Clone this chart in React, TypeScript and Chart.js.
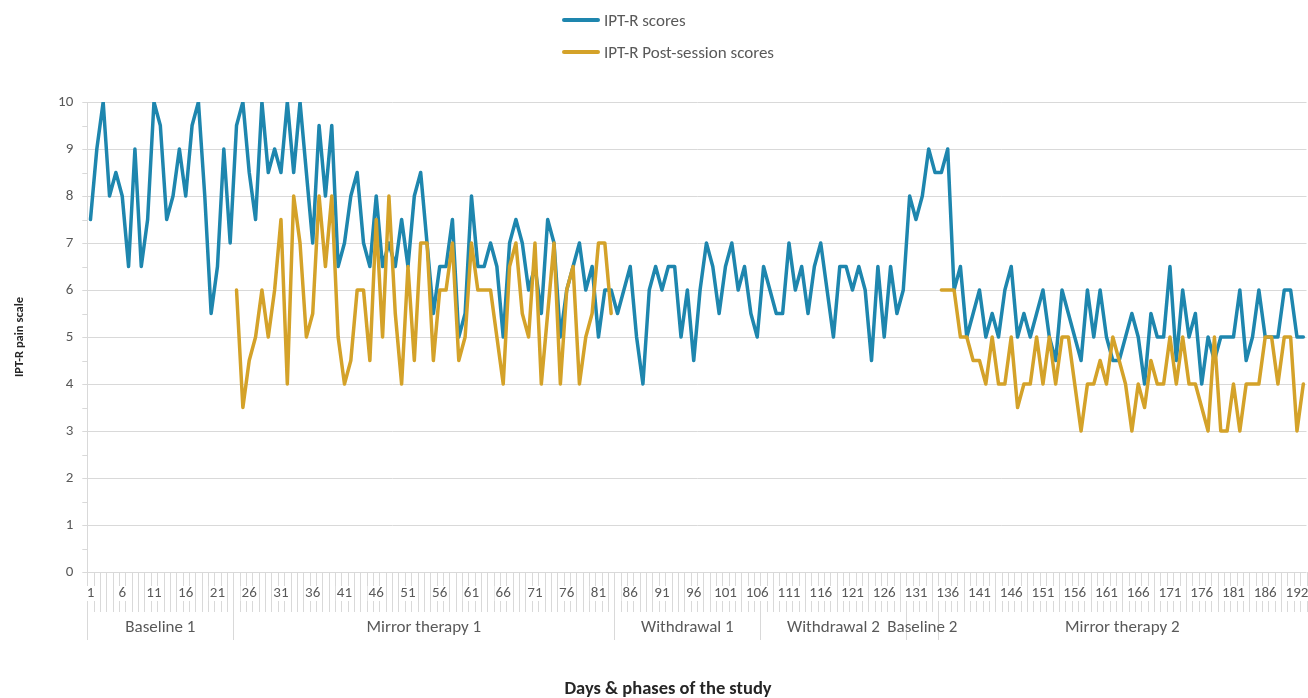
import React, { useEffect, useRef } from 'react';
import { Chart, registerables } from 'chart.js';

Chart.register(...registerables);

const FONT = "Carlito, Lato, 'Liberation Sans', sans-serif";
const BLUE = '#1E86AE';
const GOLD = '#D4A229';
const TICK_FONT_SIZE = 15;

// Category labels (days 1..192)
const days: string[] = Array.from({ length: 192 }, (_, i) => String(i + 1));

// Tick labels displayed every 5th category
const tickLabels: string[] = [
  '1', '6', '11', '16', '21', '26', '31', '36', '41', '46', '51', '56', '61', '66', '71', '76', '81', '86', '91',
  '96', '101', '106', '111', '116', '121', '126', '131', '136', '141', '146', '151', '156', '161', '166', '171',
  '176', '181', '186', '192',
];

// Phases of the study and their first day
const phases: string[] = ['Baseline 1', 'Mirror therapy 1', 'Withdrawal 1', 'Withdrawal 2', 'Baseline 2', 'Mirror therapy 2'];
const phaseStarts: number[] = [1, 24, 84, 107, 130, 135];

// IPT-R scores, days 1..192
const iptScores: number[] = [
  7.5, 9, 10, 8, 8.5, 8, 6.5, 9, 6.5, 7.5,
  10, 9.5, 7.5, 8, 9, 8, 9.5, 10, 8, 5.5,
  6.5, 9, 7, 9.5, 10, 8.5, 7.5, 10, 8.5, 9,
  8.5, 10, 8.5, 10, 8.5, 7, 9.5, 8, 9.5, 6.5,
  7, 8, 8.5, 7, 6.5, 8, 6.5, 7, 6.5, 7.5,
  6.5, 8, 8.5, 7, 5.5, 6.5, 6.5, 7.5, 5, 5.5,
  8, 6.5, 6.5, 7, 6.5, 5, 7, 7.5, 7, 6,
  6.5, 5.5, 7.5, 7, 5, 6, 6.5, 7, 6, 6.5,
  5, 6, 6, 5.5, 6, 6.5, 5, 4, 6, 6.5,
  6, 6.5, 6.5, 5, 6, 4.5, 6, 7, 6.5, 5.5,
  6.5, 7, 6, 6.5, 5.5, 5, 6.5, 6, 5.5, 5.5,
  7, 6, 6.5, 5.5, 6.5, 7, 6, 5, 6.5, 6.5,
  6, 6.5, 6, 4.5, 6.5, 5, 6.5, 5.5, 6, 8,
  7.5, 8, 9, 8.5, 8.5, 9, 6, 6.5, 5, 5.5,
  6, 5, 5.5, 5, 6, 6.5, 5, 5.5, 5, 5.5,
  6, 5, 4.5, 6, 5.5, 5, 4.5, 6, 5, 6,
  5, 4.5, 4.5, 5, 5.5, 5, 4, 5.5, 5, 5,
  6.5, 4.5, 6, 5, 5.5, 4, 5, 4.5, 5, 5,
  5, 6, 4.5, 5, 6, 5, 5, 5, 6, 6,
  5, 5,
];

// IPT-R post-session scores, mirror therapy 1 (days 24..83)
const postSession1: number[] = [
  6, 3.5, 4.5, 5, 6, 5, 6,
  7.5, 4, 8, 7, 5, 5.5, 8, 6.5, 8, 5,
  4, 4.5, 6, 6, 4.5, 7.5, 5, 8, 5.5, 4,
  6.5, 4.5, 7, 7, 4.5, 6, 6, 7, 4.5, 5,
  7, 6, 6, 6, 5, 4, 6.5, 7, 5.5, 5,
  7, 4, 5.5, 7, 4, 6, 6.5, 4, 5, 5.5,
  7, 7, 5.5,
];
const post1Start = 24;

// IPT-R post-session scores, mirror therapy 2 (days 135..192)
const postSession2: number[] = [
  6, 6, 6, 5, 5, 4.5,
  4.5, 4, 5, 4, 4, 5, 3.5, 4, 4, 5,
  4, 5, 4, 5, 5, 4, 3, 4, 4, 4.5,
  4, 5, 4.5, 4, 3, 4, 3.5, 4.5, 4, 4,
  5, 4, 5, 4, 4, 3.5, 3, 5, 3, 3,
  4, 3, 4, 4, 4, 5, 5, 4, 5, 5,
  3, 4,
];
const post2Start = 135;

function buildPost(): (number | null)[] {
  const out: (number | null)[] = days.map(() => null);
  postSession1.forEach((v, i) => { out[post1Start - 1 + i] = v; });
  postSession2.forEach((v, i) => { out[post2Start - 1 + i] = v; });
  return out;
}

const axisDecor = {
  id: 'axisDecor',
  beforeDraw(chart: any) {
    const { ctx, chartArea } = chart;
    const { left, right, bottom } = chartArea;
    const n = days.length;
    const w = (right - left) / n;
    ctx.save();
    ctx.strokeStyle = '#d9d9d9';
    ctx.lineWidth = 1;
    ctx.beginPath();
    for (let k = 0; k <= n; k++) {
      const x = Math.round(left + k * w) + 0.5;
      ctx.moveTo(x, bottom);
      ctx.lineTo(x, bottom + 40);
    }
    phaseStarts.forEach((s) => {
      const x = Math.round(left + (s - 1) * w) + 0.5;
      ctx.moveTo(x, bottom);
      ctx.lineTo(x, bottom + 68);
    });
    const ys = chart.scales.y;
    for (let v = 0; v <= 10; v += 0.5) {
      const y = Math.round(ys.getPixelForValue(v)) + 0.5;
      ctx.moveTo(left - 5, y);
      ctx.lineTo(left, y);
    }
    ctx.stroke();
    // clear the area behind the day labels so the divider lines do not cross the digits
    ctx.fillStyle = '#ffffff';
    ctx.font = `${TICK_FONT_SIZE}px ${FONT}`;
    tickLabels.forEach((t, j) => {
      const cx = left + (j * 5 + 0.5) * w;
      const tw = ctx.measureText(t).width;
      ctx.fillRect(cx - tw / 2 - 1, bottom + 14, tw + 2, 15);
    });
    ctx.restore();
  },
  afterDraw(chart: any) {
    const { ctx, chartArea } = chart;
    const { left, right, bottom } = chartArea;
    const n = days.length;
    const w = (right - left) / n;
    ctx.save();
    ctx.fillStyle = '#595959';
    ctx.font = `17px ${FONT}`;
    ctx.textAlign = 'center';
    ctx.textBaseline = 'middle';
    phases.forEach((p, i) => {
      const s = phaseStarts[i] - 1;
      const e = i + 1 < phases.length ? phaseStarts[i + 1] - 1 : n;
      ctx.fillText(p, left + ((s + e) / 2) * w, bottom + 56);
    });
    ctx.fillStyle = '#262626';
    ctx.font = `bold 18.5px ${FONT}`;
    ctx.fillText('Days & phases of the study', 668, 689);
    ctx.restore();
  },
};

export default function App() {
  const ref = useRef<HTMLCanvasElement>(null);

  useEffect(() => {
    const canvas = ref.current;
    if (!canvas) return;
    const chart = new Chart(canvas, {
      type: 'line',
      data: {
        labels: days,
        datasets: [
          {
            label: 'IPT-R scores',
            data: iptScores,
            borderColor: BLUE,
            backgroundColor: BLUE,
            borderWidth: 3.5,
            pointRadius: 0,
            tension: 0,
            borderJoinStyle: 'round',
            borderCapStyle: 'round',
            order: 1,
          },
          {
            label: 'IPT-R Post-session scores',
            data: buildPost(),
            borderColor: GOLD,
            backgroundColor: GOLD,
            borderWidth: 3.5,
            pointRadius: 0,
            tension: 0,
            spanGaps: false,
            borderJoinStyle: 'round',
            borderCapStyle: 'round',
            order: 0,
          },
        ],
      },
      options: {
        responsive: false,
        animation: false,
        layout: { padding: { top: 102, right: 1.5, left: 0, bottom: 0 } },
        plugins: {
          legend: { display: false },
          tooltip: { enabled: false },
        },
        scales: {
          x: {
            type: 'category',
            offset: true,
            grid: { display: false, drawTicks: true, tickLength: 12 },
            border: { display: false },
            ticks: {
              autoSkip: false,
              maxRotation: 0,
              minRotation: 0,
              padding: 0,
              color: '#595959',
              font: { family: FONT, size: TICK_FONT_SIZE },
              callback: (_v: any, index: number) => (index % 5 === 0 ? tickLabels[index / 5] : ''),
            },
            afterFit: (scale: any) => { scale.height = 126; },
          },
          y: {
            min: 0,
            max: 10,
            grid: { color: '#d9d9d9', drawTicks: false, tickLength: 0 },
            border: { display: true, color: '#d9d9d9' },
            ticks: {
              stepSize: 1,
              padding: 14,
              color: '#595959',
              font: { family: FONT, size: TICK_FONT_SIZE },
            },
            title: {
              display: true,
              text: 'IPT-R pain scale',
              color: '#262626',
              font: { family: FONT, size: 12.5, weight: 'bold' },
              padding: { top: 12, bottom: 0 },
            },
            afterFit: (scale: any) => { scale.width = 87.3; },
          },
        },
      },
      plugins: [axisDecor],
    } as any);
    return () => chart.destroy();
  }, []);

  const legendText: React.CSSProperties = {
    marginLeft: 4,
    fontFamily: FONT,
    fontSize: 17,
    color: '#595959',
    whiteSpace: 'nowrap',
  };

  return (
    <div style={{ position: 'fixed', left: 0, top: 0, width: 1308, height: 698, background: '#fff', overflow: 'hidden' }}>
      <canvas ref={ref} width={1308} height={698} style={{ position: 'absolute', left: 0, top: 0, width: 1308, height: 698 }} />
      <div style={{ position: 'absolute', left: 562, top: 10, height: 20, display: 'flex', alignItems: 'center' }}>
        <span style={{ display: 'inline-block', width: 38, height: 4, borderRadius: 2, background: BLUE }} />
        <span style={legendText}>IPT-R scores</span>
      </div>
      <div style={{ position: 'absolute', left: 562, top: 42, height: 20, display: 'flex', alignItems: 'center' }}>
        <span style={{ display: 'inline-block', width: 38, height: 4, borderRadius: 2, background: GOLD }} />
        <span style={legendText}>IPT-R Post-session scores</span>
      </div>
    </div>
  );
}
